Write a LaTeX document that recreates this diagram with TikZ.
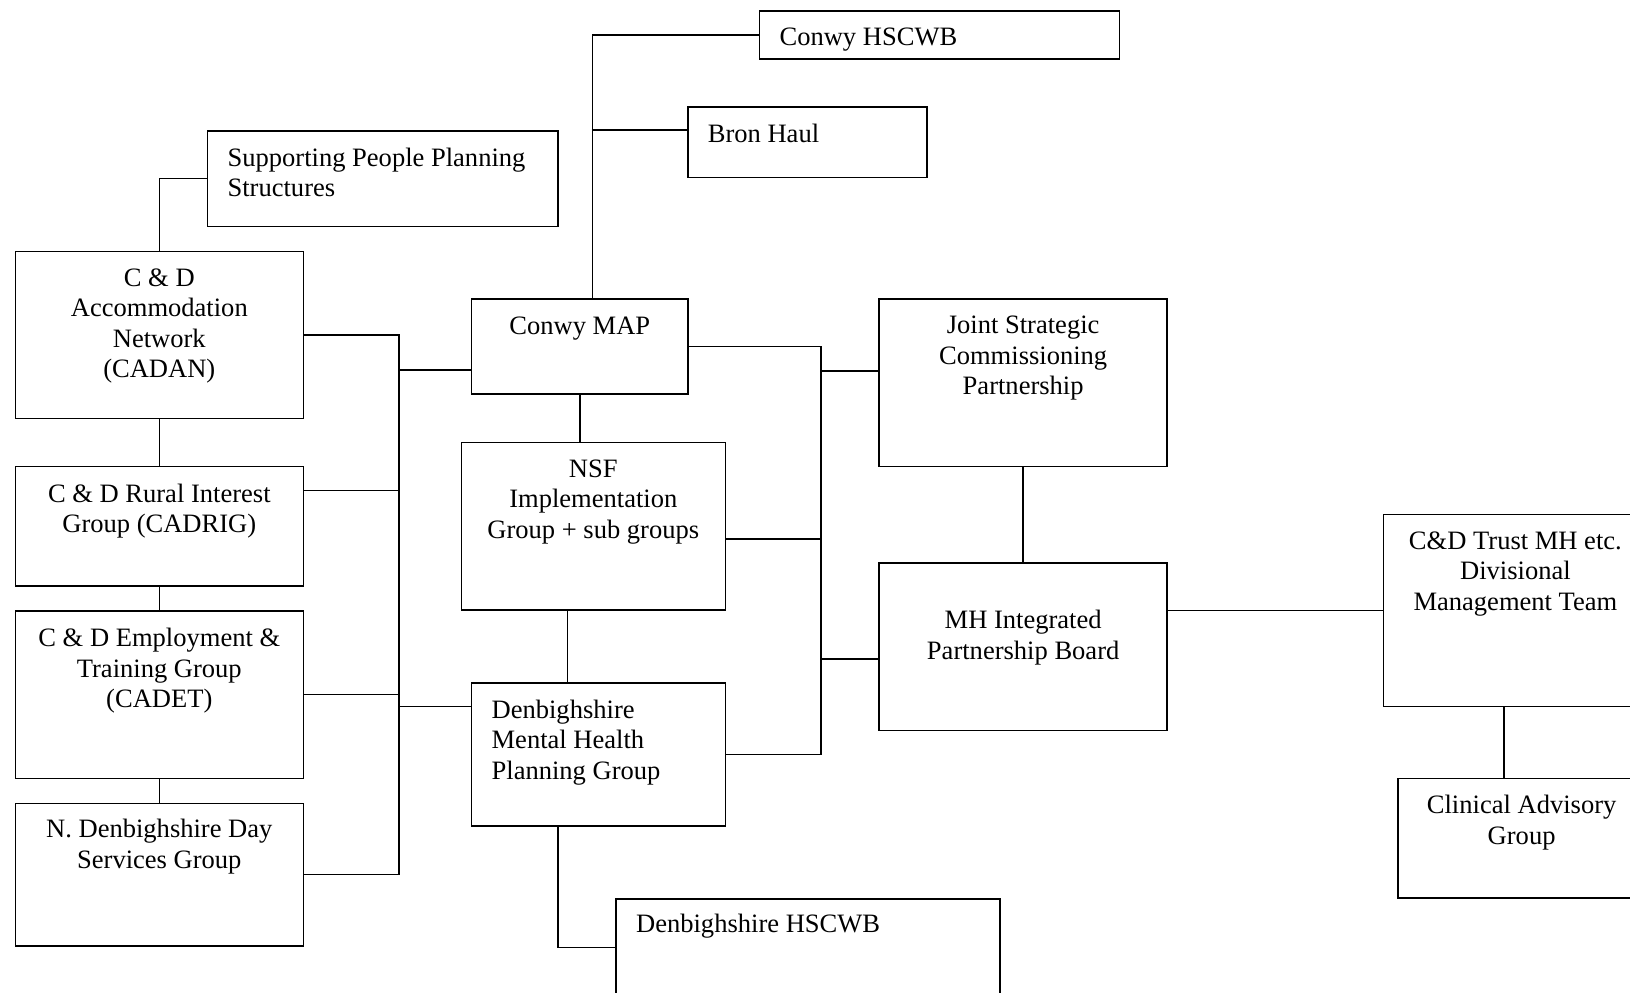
\documentclass[tikz,border=0pt]{standalone}
\usepackage{fontspec}
\setmainfont{Liberation Serif}
\def\pxu{0.47pt}
\def\tops{16.8}
\tikzset{
  box/.style={draw=black, line width=0.7pt, rectangle, inner sep=0pt, anchor=north west},
  ctext/.style={anchor=north, inner sep=0pt, align=center, font=\fontsize{12}{13.8}\selectfont, execute at begin node=\strut},
  ltext/.style={anchor=north west, inner sep=0pt, align=left, font=\fontsize{12}{13.8}\selectfont, execute at begin node=\strut},
  conn/.style={draw=black, line width=0.7pt},
}
\newcommand\mkbox[5]{\node[box, minimum width=#4*\pxu, minimum height=#5*\pxu] (#1) at (#2,#3) {};}
\begin{document}
\begin{tikzpicture}[x=0.47pt, y=-0.47pt]
\useasboundingbox (0,0) rectangle (1568,954.3);
\fill[white] (0,0) rectangle (1568,954.3);
\clip (0,0) rectangle (1568,954.3);

% boxes
\mkbox{chscwb}{730}{10}{346}{46}
\mkbox{bron}{661}{102}{230}{68}
\mkbox{sp}{199}{125}{337}{92}
\mkbox{cadan}{14}{241}{277}{161}
\mkbox{cadrig}{14}{448}{277}{115}
\mkbox{cadet}{14}{587}{277}{161}
\mkbox{ndds}{14}{772}{277}{137}
\mkbox{map}{453}{287}{208}{91}
\mkbox{nsf}{443}{425}{254}{161}
\mkbox{mhpg}{453}{656}{244}{138}
\mkbox{dhscwb}{592}{864}{369}{93}
\mkbox{jscp}{845}{287}{277}{161}
\mkbox{mhipb}{845}{541}{277}{161}
\mkbox{ctrust}{1330}{494}{254}{185}
\mkbox{cag}{1344}{748}{238}{115}

% texts
\node[ltext] (chscwb-t) at ([xshift=19.5*\pxu, yshift=-13*\pxu]chscwb.north west) {Conwy HSCWB};
\node[ltext] (bron-t) at ([xshift=19.5*\pxu, yshift=-14.45*\pxu]bron.north west) {Bron Haul};
\node[ltext] (sp-t) at ([xshift=19.5*\pxu, yshift=-\tops*\pxu]sp.north west) {Supporting People Planning\\Structures};
\node[ctext] (cadan-t) at ([yshift=-\tops*\pxu]cadan.north) {C \& D\\Accommodation\\Network\\(CADAN)};
\node[ctext] (cadrig-t) at ([yshift=-\tops*\pxu]cadrig.north) {C \& D Rural Interest\\Group (CADRIG)};
\node[ctext] (cadet-t) at ([yshift=-\tops*\pxu]cadet.north) {C \& D Employment \&\\Training Group\\(CADET)};
\node[ctext] (ndds-t) at ([yshift=-15.5*\pxu]ndds.north) {N. Denbighshire Day\\Services Group};
\node[ctext] (map-t) at ([yshift=-13.5*\pxu]map.north) {Conwy MAP};
\node[ctext] (nsf-t) at ([yshift=-\tops*\pxu]nsf.north) {NSF\\Implementation\\Group + sub groups};
\node[ltext] (mhpg-t) at ([xshift=19.5*\pxu, yshift=-\tops*\pxu]mhpg.north west) {Denbighshire\\Mental Health\\Planning Group};
\node[ltext] (dhscwb-t) at ([xshift=19.5*\pxu, yshift=-12.5*\pxu]dhscwb.north west) {Denbighshire HSCWB};
\node[ctext] (jscp-t) at ([yshift=-\tops*\pxu]jscp.north) {Joint Strategic\\Commissioning\\Partnership};
\node[ctext] (mhipb-t) at ([yshift=-45.5*\pxu]mhipb.north) {MH Integrated\\Partnership Board};
\node[ctext] (ctrust-t) at ([yshift=-\tops*\pxu]ctrust.north) {C\&D Trust MH etc.\\Divisional\\Management Team};
\node[ctext] (cag-t) at ([yshift=-\tops*\pxu]cag.north) {Clinical Advisory\\Group};

% helper coordinates
\coordinate (lb) at (384,0);
\coordinate (rb) at (790,0);
\coordinate (jb) at (569,125);

% connectors top
\draw[conn] ([xshift=12*\pxu]map.north) |- (chscwb.west);
\draw[conn] (jb) -- (jb -| bron.west);
\draw[conn] (cadan.north) |- (sp.west);

% left column
\draw[conn] (cadan.south) -- (cadrig.north);
\draw[conn] (cadrig.south) -- (cadet.north);
\draw[conn] (cadet.south) -- (ndds.north);

% left bus
\draw[conn] (cadan.east) -- (cadan.east -| lb) -- (ndds.east -| lb) -- (ndds.east);
\draw[conn] ([yshift=34.5*\pxu]cadrig.east) coordinate (c1) -- (c1 -| lb);
\draw[conn] (cadet.east) -- (cadet.east -| lb);
\draw[conn] ([yshift=-22.5*\pxu]map.west) coordinate (m1) -- (m1 -| lb);
\draw[conn] ([yshift=46*\pxu]mhpg.west) coordinate (m2) -- (m2 -| lb);

% middle column
\draw[conn] (map.south) -- (map.south |- nsf.north);
\draw[conn] ([xshift=-25*\pxu]nsf.south) coordinate (n1) -- (n1 |- mhpg.north);
\draw[conn] ([xshift=-39*\pxu]mhpg.south) |- (dhscwb.west);

% right bus
\draw[conn] (map.east) -- (map.east -| rb) -- (mhpg.east -| rb) -- (mhpg.east);
\draw[conn] ([yshift=-12.5*\pxu]nsf.east) coordinate (n2) -- (n2 -| rb);
\draw[conn] ([yshift=11.5*\pxu]jscp.west) coordinate (j1) -- (j1 -| rb);
\draw[conn] ([yshift=-11.5*\pxu]mhipb.west) coordinate (j2) -- (j2 -| rb);

% right side
\draw[conn] (jscp.south) -- (mhipb.north);
\draw[conn] (ctrust.west) -- (ctrust.west -| mhipb.east);
\draw[conn] ([xshift=-11*\pxu]ctrust.south) coordinate (t1) -- (t1 |- cag.north);
\end{tikzpicture}
\end{document}
